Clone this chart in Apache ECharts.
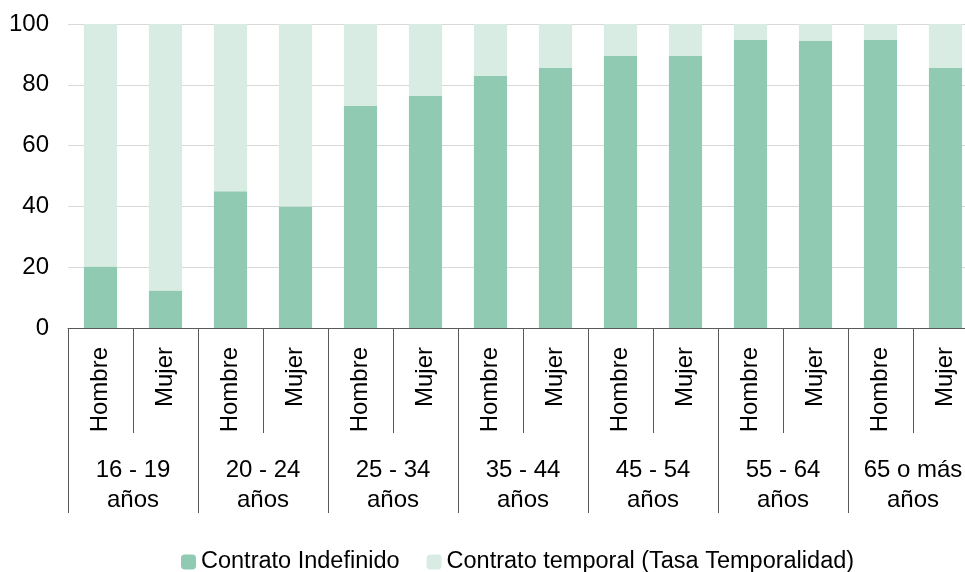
<!DOCTYPE html>
<html>
<head>
<meta charset="utf-8">
<script src="https://cdn.jsdelivr.net/npm/echarts@6/dist/echarts.min.js"></script>
<style>
  html, body { margin: 0; padding: 0; background: #fff; }
  #chart { width: 965px; height: 572px; }
</style>
</head>
<body>
<div id="chart"></div>
<script>
// categorías: sexo dentro de cada grupo de edad
const sexos = ["Hombre", "Mujer", "Hombre", "Mujer", "Hombre", "Mujer", "Hombre", "Mujer",
  "Hombre", "Mujer", "Hombre", "Mujer", "Hombre", "Mujer"];
const edades = ["16 - 19\naños", "20 - 24\naños", "25 - 34\naños", "35 - 44\naños",
  "45 - 54\naños", "55 - 64\naños", "65 o más\naños"];

// % contrato indefinido y temporal
const indefinido = [20.2, 12.3, 45.0, 40.0, 73.0, 76.3, 82.9, 85.5, 89.5, 89.5, 94.7, 94.4, 94.7, 85.5];
const temporal = [79.8, 87.7, 55.0, 60.0, 27.0, 23.7, 17.1, 14.5, 10.5, 10.5, 5.3, 5.6, 5.3, 14.5];

const yTicks = [0, 20, 40, 60, 80, 100];

const font = "'Liberation Sans', Arial, sans-serif";
const lineCol = "#595959";

const chart = echarts.init(document.getElementById("chart"));

chart.setOption({
  animation: false,
  textStyle: { fontFamily: font },
  grid: {
    left: 68, top: 24, bottom: 244, width: 910,
    containLabel: false, outerBoundsMode: "none"
  },
  legend: {
    left: 181,
    top: 550,
    padding: 0,
    itemWidth: 15,
    itemHeight: 15,
    itemGap: 27,
    textStyle: { fontSize: 23.5, color: "#000", fontFamily: font },
    data: ["Contrato Indefinido", "Contrato temporal (Tasa Temporalidad)"]
  },
  xAxis: [
    {
      type: "category",
      data: sexos,
      axisLine: { lineStyle: { color: lineCol, width: 1 } },
      axisTick: { show: true, interval: 0, length: 105, lineStyle: { color: lineCol } },
      axisLabel: {
        interval: 0, rotate: 90, margin: 19,
        fontSize: 24, color: "#000", fontFamily: font
      }
    },
    {
      type: "category",
      data: edades,
      position: "bottom",
      axisLine: { show: false },
      axisTick: { show: true, interval: 0, length: 185, lineStyle: { color: lineCol } },
      axisLabel: {
        interval: 0, margin: 127, lineHeight: 30,
        fontSize: 24, color: "#000", fontFamily: font
      }
    }
  ],
  yAxis: {
    type: "value",
    min: yTicks[0],
    max: yTicks[yTicks.length - 1],
    interval: 20,
    axisLine: { show: false },
    axisTick: { show: false },
    splitLine: { lineStyle: { color: "#d9d9d9", width: 1 } },
    axisLabel: { fontSize: 24, color: "#000", margin: 19, fontFamily: font }
  },
  series: [
    {
      name: "Contrato Indefinido",
      type: "bar",
      stack: "total",
      barWidth: "51%",
      itemStyle: { color: "#91cab2" },
      data: indefinido
    },
    {
      name: "Contrato temporal (Tasa Temporalidad)",
      type: "bar",
      stack: "total",
      barWidth: "51%",
      itemStyle: { color: "#d8ece3" },
      data: temporal
    }
  ]
});
</script>
</body>
</html>
